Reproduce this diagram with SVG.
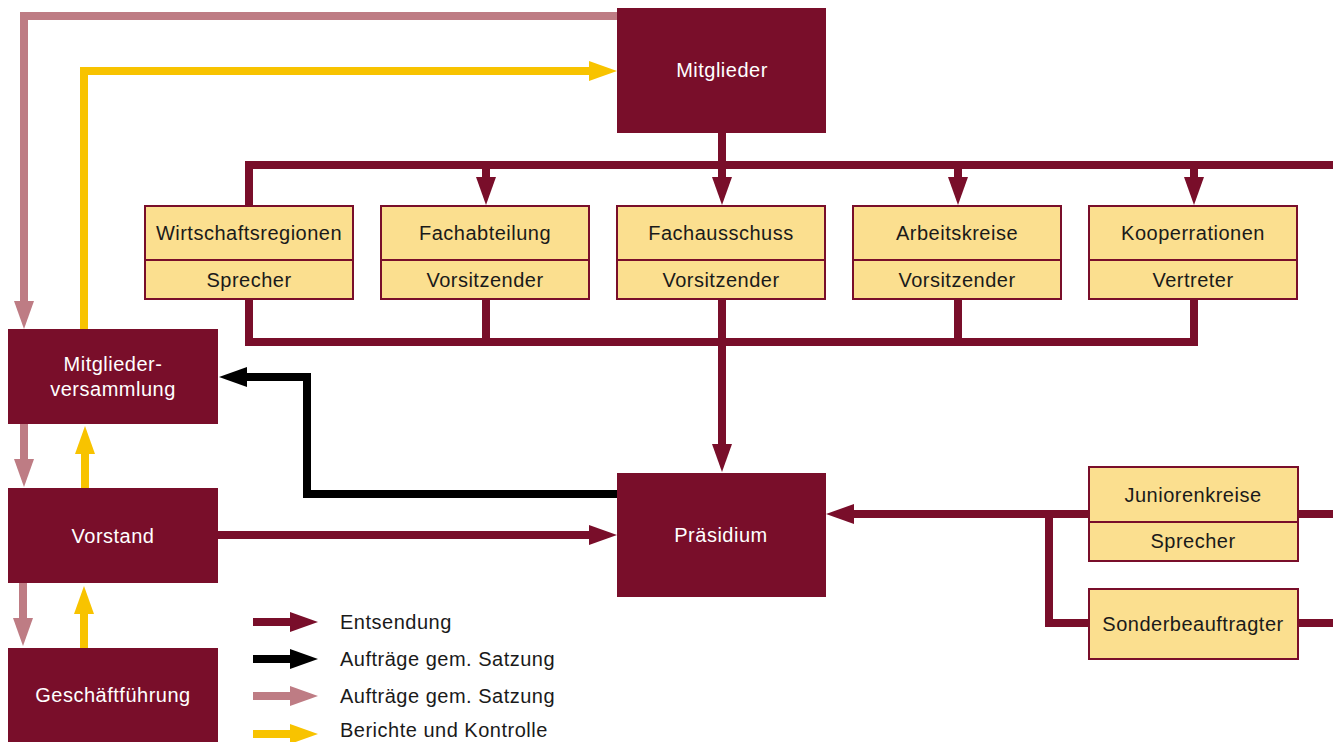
<svg xmlns="http://www.w3.org/2000/svg" width="1333" height="742" viewBox="0 0 1333 742">
<style>
.dark{fill:#790e2a;stroke:none}
.lite{fill:#fbdf8f;stroke:#790e2a;stroke-width:2}
.div{stroke:#790e2a;stroke-width:2}
text{font-family:"Liberation Sans",Arial,sans-serif;font-size:20px;letter-spacing:0.5px}
.wt{fill:#ffffff;text-anchor:middle}
.bt{fill:#1a1a1a;text-anchor:middle}
.lt{fill:#1a1a1a}
.c{fill:none;stroke-width:8;stroke-linejoin:miter;stroke-linecap:butt}
.cd{stroke:#790e2a}
.cb{stroke:#000000}
.cp{stroke:#be7c84}
.cy{stroke:#f8c300}
</style>
<defs>
<marker id="ad" markerUnits="userSpaceOnUse" markerWidth="29" markerHeight="22" viewBox="-1 -11 29 22" refX="0" refY="0" orient="auto"><path d="M-1,-10 L27,0 L-1,10 z" fill="#790e2a"/></marker>
<marker id="ab" markerUnits="userSpaceOnUse" markerWidth="29" markerHeight="22" viewBox="-1 -11 29 22" refX="0" refY="0" orient="auto"><path d="M-1,-10 L27,0 L-1,10 z" fill="#000000"/></marker>
<marker id="ap" markerUnits="userSpaceOnUse" markerWidth="29" markerHeight="22" viewBox="-1 -11 29 22" refX="0" refY="0" orient="auto"><path d="M-1,-10 L27,0 L-1,10 z" fill="#be7c84"/></marker>
<marker id="ay" markerUnits="userSpaceOnUse" markerWidth="29" markerHeight="22" viewBox="-1 -11 29 22" refX="0" refY="0" orient="auto"><path d="M-1,-10 L27,0 L-1,10 z" fill="#f8c300"/></marker>
</defs>
<rect width="1333" height="742" fill="#ffffff"/>
<g id="connectors">
<path class="c cp" d="M617,16 H24 V302" marker-end="url(#ap)"/>
<path class="c cy" d="M84,329 V71 H590" marker-end="url(#ay)"/>
<path class="c cd" d="M722,133 V178" marker-end="url(#ad)"/>
<path class="c cd" d="M249,206 V165 H1333"/>
<path class="c cd" d="M486,165 V178" marker-end="url(#ad)"/>
<path class="c cd" d="M958,165 V178" marker-end="url(#ad)"/>
<path class="c cd" d="M1194,165 V178" marker-end="url(#ad)"/>
<path class="c cd" d="M249,299 V342 H1194 V299"/>
<path class="c cd" d="M486,299 V342"/>
<path class="c cd" d="M958,299 V342"/>
<path class="c cd" d="M722,299 V445" marker-end="url(#ad)"/>
<path class="c cb" d="M617,494 H307 V377 H246" marker-end="url(#ab)"/>
<path class="c cd" d="M218,535 H590" marker-end="url(#ad)"/>
<path class="c cd" d="M1089,514 H853" marker-end="url(#ad)"/>
<path class="c cd" d="M1049,514 V623 H1089"/>
<path class="c cd" d="M1298,514 H1333"/>
<path class="c cd" d="M1298,623 H1333"/>
<path class="c cp" d="M24,424 V460" marker-end="url(#ap)"/>
<path class="c cy" d="M85,488 V453" marker-end="url(#ay)"/>
<path class="c cp" d="M23,583 V619" marker-end="url(#ap)"/>
<path class="c cy" d="M84,648 V613" marker-end="url(#ay)"/>
</g>
<g id="mitglieder"><rect class="dark" x="617" y="8" width="209" height="125"/><text class="wt" x="722" y="77">Mitglieder</text></g>
<g id="wirtschaftsregionen"><rect class="lite" x="145" y="206" width="208" height="93"/><line class="div" x1="145" y1="260" x2="353" y2="260"/><text class="bt" x="249" y="240">Wirtschaftsregionen</text><text class="bt" x="249" y="287">Sprecher</text></g>
<g id="fachabteilung"><rect class="lite" x="381" y="206" width="208" height="93"/><line class="div" x1="381" y1="260" x2="589" y2="260"/><text class="bt" x="485" y="240">Fachabteilung</text><text class="bt" x="485" y="287">Vorsitzender</text></g>
<g id="fachausschuss"><rect class="lite" x="617" y="206" width="208" height="93"/><line class="div" x1="617" y1="260" x2="825" y2="260"/><text class="bt" x="721" y="240">Fachausschuss</text><text class="bt" x="721" y="287">Vorsitzender</text></g>
<g id="arbeitskreise"><rect class="lite" x="853" y="206" width="208" height="93"/><line class="div" x1="853" y1="260" x2="1061" y2="260"/><text class="bt" x="957" y="240">Arbeitskreise</text><text class="bt" x="957" y="287">Vorsitzender</text></g>
<g id="kooperrationen"><rect class="lite" x="1089" y="206" width="208" height="93"/><line class="div" x1="1089" y1="260" x2="1297" y2="260"/><text class="bt" x="1193" y="240">Kooperrationen</text><text class="bt" x="1193" y="287">Vertreter</text></g>
<g id="mitgliederversammlung"><rect class="dark" x="8" y="329" width="210" height="95"/><text class="wt" x="113" y="371">Mitglieder-</text><text class="wt" x="113" y="396">versammlung</text></g>
<g id="vorstand"><rect class="dark" x="8" y="488" width="210" height="95"/><text class="wt" x="113" y="543">Vorstand</text></g>
<g id="geschaeftfuehrung"><rect class="dark" x="8" y="648" width="210" height="100"/><text class="wt" x="113" y="702">Geschäftführung</text></g>
<g id="praesidium"><rect class="dark" x="617" y="473" width="209" height="124"/><text class="wt" x="721" y="542">Präsidium</text></g>
<g id="juniorenkreise"><rect class="lite" x="1089" y="467" width="209" height="94"/><line class="div" x1="1089" y1="522" x2="1298" y2="522"/><text class="bt" x="1193" y="502">Juniorenkreise</text><text class="bt" x="1193" y="548">Sprecher</text></g>
<g id="sonderbeauftragter"><rect class="lite" x="1089" y="589" width="209" height="70"/><text class="bt" x="1193" y="631">Sonderbeauftragter</text></g>
<g id="legend">
<path class="c cd" d="M253,622 H291" marker-end="url(#ad)"/>
<path class="c cb" d="M253,659 H291" marker-end="url(#ab)"/>
<path class="c cp" d="M253,696 H291" marker-end="url(#ap)"/>
<path class="c cy" d="M253,734 H291" marker-end="url(#ay)"/>
<text class="lt" x="340" y="629">Entsendung</text>
<text class="lt" x="340" y="666">Aufträge gem. Satzung</text>
<text class="lt" x="340" y="703">Aufträge gem. Satzung</text>
<text class="lt" x="340" y="737">Berichte und Kontrolle</text>
</g>
</svg>
